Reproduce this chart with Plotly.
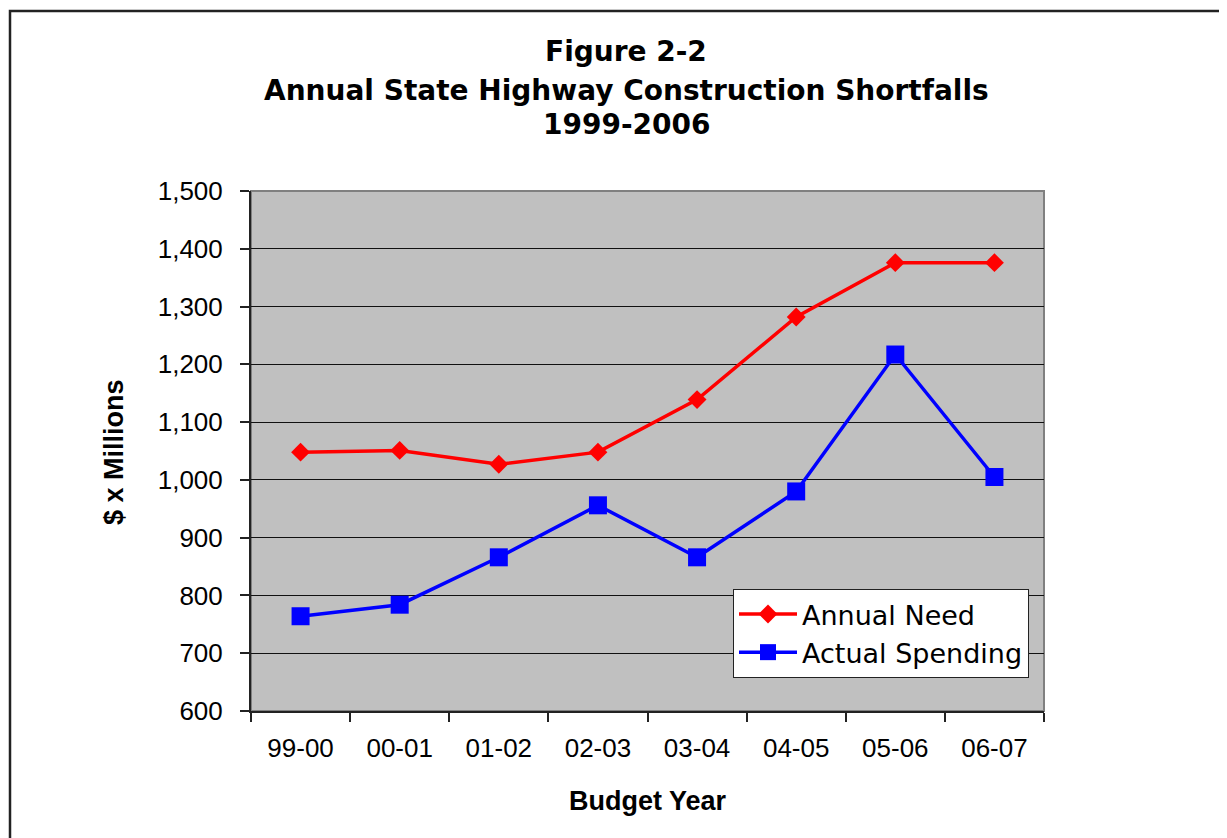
import plotly.graph_objects as go

budget_years = ["99-00", "00-01", "01-02", "02-03", "03-04", "04-05", "05-06", "06-07"]
annual_need = [1048, 1051, 1027, 1048, 1139, 1282, 1376, 1376]
actual_spending = [764, 784, 866, 956, 866, 980, 1217, 1005]

title_lines = ["Figure 2-2", "Annual State Highway Construction Shortfalls", "1999-2006"]

# page has an 8px body margin; work in page pixel coordinates and offset
OFF = 8
W, H = 1227 - OFF, 838 - OFF
L, R, T, B = 251 - OFF, 183, 191 - OFF, 127
ph = H - T - B
pw = W - L - R


def py(pix):
    return (H - B - (pix - OFF)) / ph


def px(pix):
    return ((pix - OFF) - L) / pw


fig = go.Figure()
fig.add_trace(go.Scatter(
    x=budget_years, y=annual_need, name="Annual Need", mode="lines+markers",
    line=dict(color="#FF0000", width=3.5),
    marker=dict(symbol="diamond", size=14.5, color="#FF0000"),
    legendgroup="a",
))
fig.add_trace(go.Scatter(
    x=budget_years, y=actual_spending, name="Actual Spending", mode="lines+markers",
    line=dict(color="#0000FF", width=3.5),
    marker=dict(symbol="square", size=18, color="#0000FF"),
    legendgroup="b",
))

annots = []
for txt, yp in zip(title_lines, [51, 90, 124]):
    annots.append(dict(text=f"<b>{txt}</b>", x=px(626), xref="paper", y=py(yp), yref="paper",
                       xanchor="center", yanchor="middle", showarrow=False,
                       font=dict(family="DejaVu Sans", size=28, color="black")))
annots.append(dict(text="<b>$ x Millions</b>", x=px(114), xref="paper", y=py(452), yref="paper",
                   xanchor="center", yanchor="middle", textangle=-90, showarrow=False,
                   font=dict(family="Liberation Sans", size=27, color="black")))
annots.append(dict(text="<b>Budget Year</b>", x=px(648), xref="paper", y=py(801), yref="paper",
                   xanchor="center", yanchor="middle", showarrow=False,
                   font=dict(family="Liberation Sans", size=27, color="black")))

shapes = [
    dict(type="rect", xref="paper", yref="paper", x0=px(10), x1=px(1260), y0=py(11), y1=py(870),
         line=dict(color="#222222", width=2.5), fillcolor="rgba(0,0,0,0)", layer="below"),
    dict(type="rect", xref="paper", yref="paper", x0=0, x1=1, y0=0, y1=1,
         line=dict(color="#808080", width=2), fillcolor="rgba(0,0,0,0)", layer="below"),
]

fig.update_layout(
    width=W, height=H,
    margin=dict(l=L, r=R, t=T, b=B, autoexpand=False),
    paper_bgcolor="white", plot_bgcolor="#C0C0C0",
    showlegend=True,
    legend=dict(x=px(733), y=py(589), xanchor="left", yanchor="top",
                bgcolor="white", bordercolor="#222222", borderwidth=1,
                font=dict(family="DejaVu Sans", size=27, color="black"),
                traceorder="grouped", tracegroupgap=0, itemwidth=58),
    annotations=annots,
    shapes=shapes,
    xaxis=dict(type="category", range=[-0.5, 7.5], tickson="boundaries",
               ticks="outside", ticklen=9, tickwidth=1.5, tickcolor="#222222",
               showline=True, linecolor="#222222", linewidth=2,
               showgrid=False, zeroline=False,
               tickfont=dict(family="Liberation Sans", size=26, color="black"),
               ticklabelstandoff=13),
    yaxis=dict(range=[600, 1500], dtick=100, tickformat=",",
               ticks="outside", ticklen=9, tickwidth=1.5, tickcolor="#222222",
               showline=True, linecolor="#222222", linewidth=2,
               showgrid=True, gridcolor="#111111", gridwidth=1, zeroline=False,
               tickfont=dict(family="Liberation Sans", size=26, color="black"),
               ticklabelstandoff=12),
)

fig.write_html("out.html")
